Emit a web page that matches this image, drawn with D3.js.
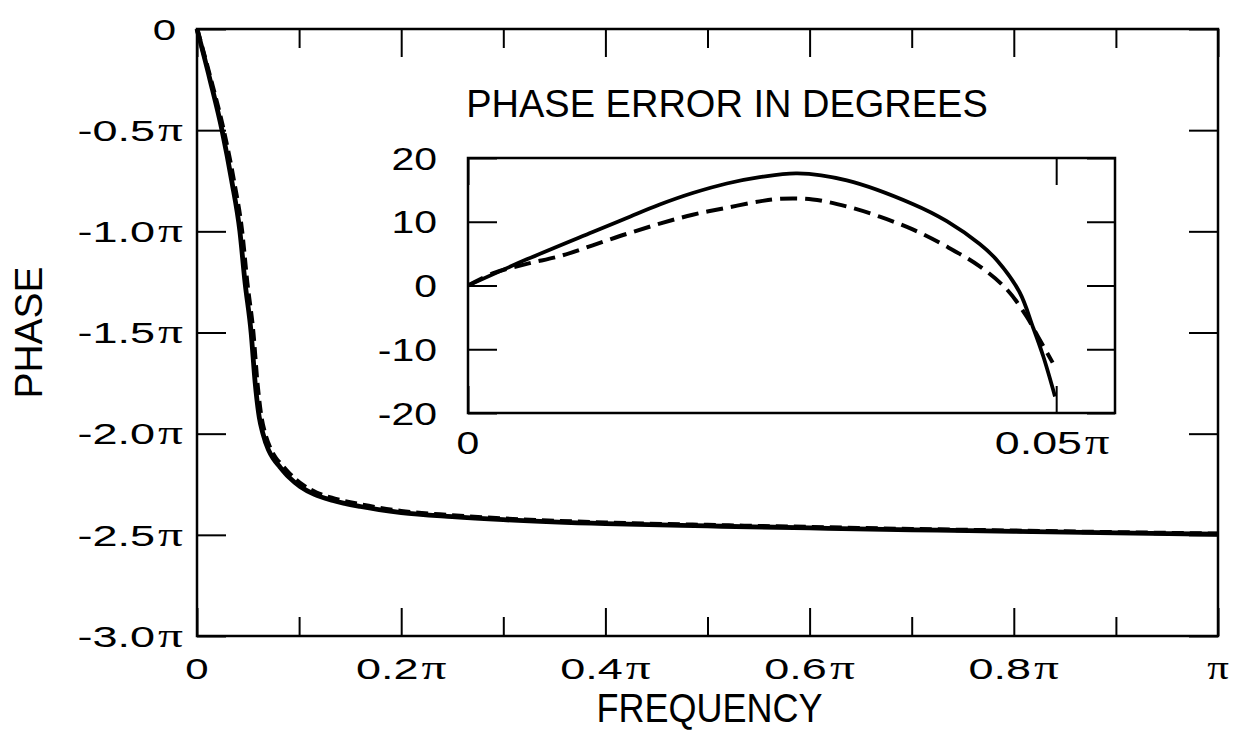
<!DOCTYPE html>
<html>
<head>
<meta charset="utf-8">
<script src="https://cdn.jsdelivr.net/npm/d3@7"></script>
<style>
  body { margin: 0; background: #fff; }
  text { font-family: "Liberation Sans", Arial, sans-serif; fill: #000; }
</style>
</head>
<body>
<div id="chart"></div>
<script>
// main curves (frequency in units of pi, phase in units of pi)
var freqSolid = [0, 0.0127, 0.0245, 0.034, 0.042, 0.047, 0.053, 0.057, 0.061, 0.0646, 0.07, 0.075, 0.081, 0.09, 0.101, 0.115, 0.133, 0.16, 0.2, 0.25, 0.3, 0.4, 0.5, 0.6, 0.7, 0.8, 0.9, 1.0];
var phaseSolid = [0, -0.25, -0.5, -0.75, -1.0, -1.25, -1.5, -1.75, -1.92, -2.0, -2.08, -2.125, -2.163, -2.215, -2.261, -2.3, -2.33, -2.36, -2.39, -2.41, -2.425, -2.445, -2.456, -2.466, -2.475, -2.483, -2.49, -2.497];
var freqDashed = [0, 0.0135, 0.026, 0.036, 0.044, 0.049, 0.055, 0.059, 0.063, 0.0666, 0.072, 0.077, 0.083, 0.092, 0.103, 0.117, 0.135, 0.162, 0.2, 0.25, 0.3, 0.4, 0.5, 0.6, 0.7, 0.8, 0.9, 1.0];
var phaseDashed = [0, -0.25, -0.5, -0.75, -1.0, -1.25, -1.5, -1.75, -1.92, -2.0, -2.075, -2.12, -2.155, -2.205, -2.252, -2.292, -2.322, -2.352, -2.383, -2.404, -2.42, -2.44, -2.452, -2.462, -2.472, -2.48, -2.488, -2.495];

// inset: phase error in degrees
var errFreqSolid = [0, 0.005, 0.0106, 0.0135, 0.0163, 0.0191, 0.022, 0.0248, 0.028, 0.0322, 0.0378, 0.0407, 0.0435, 0.045, 0.0469, 0.048, 0.0489, 0.0499];
var errSolid = [0, 4.1, 8.4, 10.6, 12.7, 14.5, 16.0, 17.0, 17.6, 16.5, 12.8, 10.1, 6.5, 3.9, -1.1, -6.4, -11.1, -17.4];
var errFreqDashed = [0, 0.0021, 0.005, 0.0078, 0.0106, 0.0135, 0.0163, 0.0191, 0.022, 0.0248, 0.0265, 0.0293, 0.0322, 0.035, 0.0378, 0.0407, 0.0435, 0.0458, 0.0475, 0.0486, 0.0497];
var errDashed = [0, 1.9, 3.4, 4.6, 6.3, 8.1, 9.7, 11.1, 12.2, 13.2, 13.6, 13.5, 12.4, 10.8, 8.8, 6.1, 3.0, -0.6, -4.9, -8.5, -12.1];

// ticks
var xMajor = [0, 0.2, 0.4, 0.6, 0.8, 1.0];
var xMinor = [0.1, 0.3, 0.5, 0.7, 0.9];
var yTicks = [0, -0.5, -1.0, -1.5, -2.0, -2.5, -3.0];
var insetYTicks = [20, 10, 0, -10, -20];
var insetXTicks = [0, 0.05];

var margin = {top: 29, right: 15, bottom: 99, left: 197},
  width = 1233 - margin.left - margin.right,
  height = 735 - margin.top - margin.bottom;

var svg = d3.select("#chart")
.append("svg")
  .attr("width", 1233)
  .attr("height", 735)
.append("g")
  .attr("transform", "translate(" + margin.left + "," + margin.top + ")");

var x = d3.scaleLinear().domain([0, 1]).range([0, width]);
var y = d3.scaleLinear().domain([-3, 0]).range([height, 0]);

// frame
svg.append("rect")
  .attr("width", width).attr("height", height)
  .attr("fill", "none").attr("stroke", "#000").attr("stroke-width", 2.5);

function styleTicks(g) {
  g.select(".domain").remove();
  g.selectAll("line").attr("stroke", "#000").attr("stroke-width", 2);
}

svg.append("g").attr("transform", "translate(0," + height + ")")
  .call(d3.axisBottom(x).tickValues(xMajor).tickSize(-28).tickFormat("")).call(styleTicks);
svg.append("g").attr("transform", "translate(0," + height + ")")
  .call(d3.axisBottom(x).tickValues(xMinor).tickSize(-19).tickFormat("")).call(styleTicks);
svg.append("g")
  .call(d3.axisTop(x).tickValues(xMajor).tickSize(-28).tickFormat("")).call(styleTicks);
svg.append("g")
  .call(d3.axisTop(x).tickValues(xMinor).tickSize(-19).tickFormat("")).call(styleTicks);
svg.append("g")
  .call(d3.axisLeft(y).tickValues(yTicks).tickSize(-29).tickFormat("")).call(styleTicks);
svg.append("g").attr("transform", "translate(" + width + ",0)")
  .call(d3.axisRight(y).tickValues(yTicks).tickSize(-29).tickFormat("")).call(styleTicks);

// tick labels, wide lettering, pi in a serif face
function piText(g, num, hasPi, anchor, size, sx) {
  var t = g.append("text")
    .attr("text-anchor", anchor)
    .attr("dy", "0.36em")
    .attr("transform", "scale(" + sx + ",1)")
    .style("font-size", size + "px");
  if (num !== "") t.append("tspan").text(num);
  if (hasPi) t.append("tspan")
    .attr("dx", num === "" ? 0 : 2)
    .style("font-family", "'Liberation Serif', 'DejaVu Serif', serif")
    .style("font-size", (size + 3) + "px")
    .text("\u03C0");
}

yTicks.forEach(function(v) {
  if (v === 0) {
    var g0 = svg.append("g").attr("transform", "translate(-21," + y(v) + ")");
    piText(g0, "0", false, "end", 30, 1.4);
  } else {
    var g = svg.append("g").attr("transform", "translate(-14," + y(v) + ")");
    piText(g, d3.format(".1f")(v).replace("\u2212", "-"), true, "end", 30, 1.5);
  }
});

xMajor.forEach(function(v) {
  var g = svg.append("g").attr("transform", "translate(" + x(v) + "," + (height + 32) + ")");
  if (v === 0) piText(g, "0", false, "middle", 30, 1.4);
  else if (v === 1) piText(g, "", true, "middle", 30, 1.3);
  else piText(g, d3.format(".1f")(v), true, "middle", 30, 1.5);
});

// axis titles
svg.append("text")
  .attr("transform", "translate(" + (x(0.5) + 2) + "," + (height + 86) + ") scale(0.9,1)")
  .attr("text-anchor", "middle")
  .style("font-size", "40px")
  .text("FREQUENCY");

svg.append("text")
  .attr("transform", "translate(" + (-155) + "," + (y(-1.5)) + ") rotate(-90)")
  .attr("text-anchor", "middle")
  .style("font-size", "39px")
  .text("PHASE");

// main curves
var line = d3.line()
  .x(function(d) { return x(d[0]); })
  .y(function(d) { return y(d[1]); })
  .curve(d3.curveMonotoneX);

svg.append("path")
  .datum(d3.zip(freqDashed, phaseDashed))
  .attr("d", line)
  .attr("fill", "none").attr("stroke", "#000")
  .attr("stroke-width", 4.5)
  .attr("stroke-dasharray", "12,6");

svg.append("path")
  .datum(d3.zip(freqSolid, phaseSolid))
  .attr("d", line)
  .attr("fill", "none").attr("stroke", "#000")
  .attr("stroke-width", 4.8);

// ---- inset ----
var inset = {left: 468 - margin.left, top: 158 - margin.top, width: 647, height: 255};

var ig = svg.append("g")
  .attr("transform", "translate(" + inset.left + "," + inset.top + ")");

var xi = d3.scaleLinear().domain([0, 0.055]).range([0, inset.width]);
var yi = d3.scaleLinear().domain([-20, 20]).range([inset.height, 0]);

ig.append("rect")
  .attr("width", inset.width).attr("height", inset.height)
  .attr("fill", "#fff").attr("stroke", "#000").attr("stroke-width", 2.5);

ig.append("g")
  .call(d3.axisLeft(yi).tickValues(insetYTicks).tickSize(-29).tickFormat("")).call(styleTicks);
ig.append("g").attr("transform", "translate(" + inset.width + ",0)")
  .call(d3.axisRight(yi).tickValues(insetYTicks).tickSize(-28).tickFormat("")).call(styleTicks);
ig.append("g")
  .call(d3.axisTop(xi).tickValues(insetXTicks).tickSize(-27).tickFormat("")).call(styleTicks);
ig.append("g").attr("transform", "translate(0," + inset.height + ")")
  .call(d3.axisBottom(xi).tickValues(insetXTicks).tickSize(-27).tickFormat("")).call(styleTicks);

insetYTicks.forEach(function(v) {
  var g = ig.append("g").attr("transform", "translate(-31," + yi(v) + ")");
  piText(g, String(v), false, "end", 32, 1.28);
});
var g0 = ig.append("g").attr("transform", "translate(" + xi(0) + "," + (inset.height + 29) + ")");
piText(g0, "0", false, "middle", 32, 1.28);
var g1 = ig.append("g").attr("transform", "translate(" + (xi(0.05) - 4) + "," + (inset.height + 29) + ")");
piText(g1, "0.05", true, "middle", 32, 1.4);

ig.append("text")
  .attr("x", 259)
  .attr("y", -41)
  .attr("text-anchor", "middle")
  .style("font-size", "38px")
  .text("PHASE ERROR IN DEGREES");

var iline = d3.line()
  .x(function(d) { return xi(d[0]); })
  .y(function(d) { return yi(d[1]); })
  .curve(d3.curveCatmullRom.alpha(0.5));

ig.append("path")
  .datum(d3.zip(errFreqDashed, errDashed))
  .attr("d", iline)
  .attr("fill", "none").attr("stroke", "#000")
  .attr("stroke-width", 4)
  .attr("stroke-dasharray", "17,8");

ig.append("path")
  .datum(d3.zip(errFreqSolid, errSolid))
  .attr("d", iline)
  .attr("fill", "none").attr("stroke", "#000")
  .attr("stroke-width", 3.8);
</script>
</body>
</html>
